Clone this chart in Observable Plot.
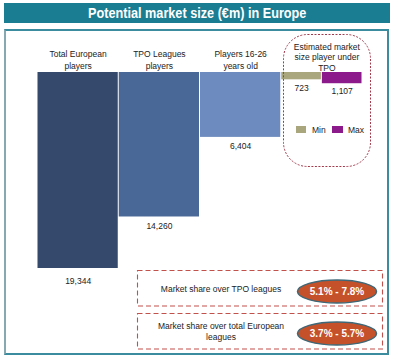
<!DOCTYPE html>
<html>
<head>
<meta charset="utf-8">
<script src="https://cdn.jsdelivr.net/npm/d3@7"></script>
<script src="https://cdn.jsdelivr.net/npm/@observablehq/plot@0.6"></script>
<style>
  html, body { margin: 0; padding: 0; background: #fff; }
  #wrap { position: relative; width: 395px; height: 360px; overflow: hidden; font-family: "Liberation Sans", Arial, sans-serif; }
  #title { position: absolute; left: 4px; top: 3px; width: 386px; height: 20px; background: #1a7d92; color: #fff;
    font-family: "Liberation Sans", Arial, sans-serif; font-weight: bold; font-size: 15px;
    line-height: 20px; text-align: center; }
  #title span { display: inline-block; transform: scaleX(0.845); transform-origin: center; white-space: nowrap; }
  #frame { position: absolute; left: 4px; top: 29px; width: 381px; height: 322px; border: 2px solid #3c8ca0; border-left-color: #86a9b1; }
  #wrap svg { position: absolute; left: 0; top: 0; }
</style>
</head>
<body>
<div id="wrap">
  <div id="title"><span></span></div>
  <div id="frame"></div>
</div>
<script>
const title = "Potential market size (€m) in Europe";
const categories = ["Total European\nplayers", "TPO Leagues\nplayers", "Players 16-26\nyears old", "Estimated market\nsize player under\nTPO"];
const mainValues = [19344, 14260, 6404];
const tpoSeries = ["Min", "Max"];
const tpoValues = [723, 1107];
const shareLabels = ["Market share over TPO leagues", "Market share over total European\nleagues"];
const shareRanges = ["5.1% - 7.8%", "3.7% - 5.7%"];

const palette = ["#34496b", "#4a6897", "#6d8bbe", "#a9a57d", "#8c1a8a"];

document.querySelector("#title span").textContent = title;

// Build bar table from the arrays
const bars = [];
mainValues.forEach((v, i) => bars.push({key: "c" + i, x1: i, x2: i + 1, value: v, main: true}));
tpoValues.forEach((v, j) => bars.push({key: tpoSeries[j], x1: 3 + j * 0.5, x2: 3 + (j + 1) * 0.5, value: v, main: false}));
const keys = bars.map(d => d.key);
const fmt = d3.format(",");
const catData = categories.map((c, i) => ({label: c, i}));
const mainBars = bars.filter(d => d.main);

const chart = Plot.plot({
  width: 395, height: 360,
  marginTop: 0, marginRight: 0, marginBottom: 0, marginLeft: 0,
  x: {type: "linear", domain: [0, 4], range: [37, 362], axis: null},
  y: {type: "linear", domain: [0, 19344], range: [72, 268], axis: null},
  color: {type: "ordinal", domain: keys, range: palette},
  style: {fontFamily: "'Liberation Sans', Arial, sans-serif", fontSize: "8.5px", background: "transparent", color: "#222"},
  marks: [
    Plot.rect(bars, {x1: "x1", x2: "x2", y1: () => 0, y2: "value", fill: "key",
      insetLeft: 0.5, insetRight: 0.5}),
    Plot.text(catData.slice(0, 3), {x: d => d.i + 0.5, y: () => 0, text: "label",
      lineAnchor: "bottom", dy: -4, lineHeight: 1.3, fill: "#222"}),
    Plot.text(catData.slice(3), {x: d => d.i + 0.5, y: () => 0, text: "label",
      lineAnchor: "bottom", dy: -2, dx: 5, lineHeight: 1.2, fill: "#222"}),
    Plot.text(mainBars.slice(0, 1), {x: d => (d.x1 + d.x2) / 2, y: "value", text: d => fmt(d.value),
      lineAnchor: "middle", dy: 13, fill: "#222"}),
    Plot.text(mainBars.slice(1), {x: d => (d.x1 + d.x2) / 2, y: "value", text: d => fmt(d.value),
      lineAnchor: "middle", dy: 9, fill: "#222"}),
    Plot.text(bars.filter(d => !d.main), {x: d => (d.x1 + d.x2) / 2, y: "value", text: d => fmt(d.value),
      lineAnchor: "middle", dy: 8, fill: "#222"})
  ]
});
document.getElementById("wrap").appendChild(chart);

// Decorations overlay
const svg = d3.select("#wrap").append("svg").attr("width", 395).attr("height", 360)
  .style("font-family", "'Liberation Sans', Arial, sans-serif").style("pointer-events", "none");

svg.append("rect").attr("x", 283.5).attr("y", 34.5).attr("width", 87).attr("height", 132).attr("rx", 24)
  .attr("fill", "none").attr("stroke", "#a23a4c").attr("stroke-width", 1).attr("stroke-dasharray", "2,1.5");

// legend
tpoSeries.forEach((s, j) => {
  const x0 = 296 + j * 36;
  svg.append("rect").attr("x", x0).attr("y", 126).attr("width", j ? 11 : 10).attr("height", 7)
    .attr("fill", palette[3 + j]);
  svg.append("text").attr("x", x0 + 16).attr("y", 133).attr("font-size", 8.5).attr("fill", "#222").text(s);
});

// share boxes
shareLabels.forEach((lab, k) => {
  const y0 = 270.5 + k * 43;
  svg.append("rect").attr("x", 137.5).attr("y", y0).attr("width", 245).attr("height", 35.5)
    .attr("fill", "none").attr("stroke", "#c2514c").attr("stroke-width", 1.1).attr("stroke-dasharray", "5,3");
  const lines = lab.split("\n");
  const cy = y0 + 18;
  const t = svg.append("text").attr("text-anchor", "middle").attr("font-size", 8.5).attr("fill", "#222");
  lines.forEach((ln, li) => {
    t.append("tspan").attr("x", 221).attr("y", cy + 3 + (li - (lines.length - 1) / 2) * 11).text(ln);
  });
  svg.append("ellipse").attr("cx", 337).attr("cy", cy + 3 - (k ? 1 : 0)).attr("rx", 39.5).attr("ry", 11.5)
    .attr("fill", "#c5512b").attr("stroke", "#3e6877").attr("stroke-width", 1.5);
  svg.append("text").attr("x", 337).attr("y", cy + 6.5 - (k ? 1 : 0)).attr("text-anchor", "middle")
    .attr("font-size", 10).attr("font-weight", "bold").attr("fill", "#fff").text(shareRanges[k]);
});
</script>
</body>
</html>
